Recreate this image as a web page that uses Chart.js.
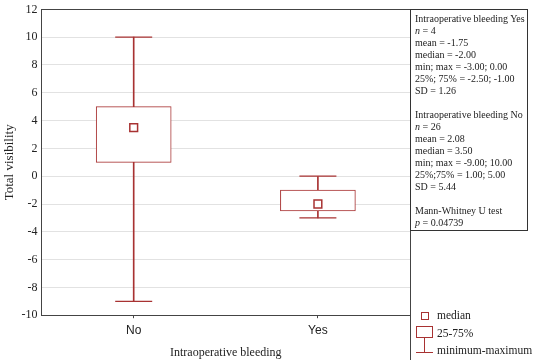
<!DOCTYPE html>
<html>
<head>
<meta charset="utf-8">
<script src="https://cdn.jsdelivr.net/npm/chart.js@4.4.1/dist/chart.umd.min.js"></script>
<style>
   body { margin: 0; background: #fff; font-family: "Liberation Serif", serif; color: #222; }
   #wrap { position: relative; width: 550px; height: 360px; }
   #chart { position: absolute; left: 0; top: 0; }
   #stats {
      position: absolute; left: 410px; top: 9px; width: 118px; height: 222px;
      border: 1px solid #333; box-sizing: border-box; padding: 3px 0 0 4px;
      font-size: 10px; line-height: 12px; white-space: nowrap;
   }
   .leg { position: absolute; font-size: 11.5px; left: 437px; }
   .ico { position: absolute; box-sizing: border-box; }
</style>
</head>
<body>
<div id="wrap">
   <canvas id="chart" width="550" height="360"></canvas>
   <div id="stats">
      Intraoperative bleeding Yes<br>
      <i>n</i> = 4<br>
      mean = -1.75<br>
      median = -2.00<br>
      min; max = -3.00; 0.00<br>
      25%; 75% = -2.50; -1.00<br>
      SD = 1.26<br>
      <br>
      Intraoperative bleeding No<br>
      <i>n</i> = 26<br>
      mean = 2.08<br>
      median = 3.50<br>
      min; max = -9.00; 10.00<br>
      25%;75% = 1.00; 5.00<br>
      SD = 5.44<br>
      <br>
      Mann-Whitney U test<br>
      <i>p</i> = 0.04739
   </div>
   <div class="ico" style="left:421px;top:312px;width:8px;height:8px;border:1.5px solid #a83232;"></div>
   <div class="leg" style="top:309px;">median</div>
   <div class="ico" style="left:416px;top:326px;width:17px;height:12px;border:1px solid #a83232;"></div>
   <div class="leg" style="top:327px;">25-75%</div>
   <div class="ico" style="left:424px;top:338px;width:1px;height:15px;background:#a83232;"></div>
   <div class="ico" style="left:416px;top:352px;width:17px;height:1px;background:#a83232;"></div>
   <div class="leg" style="top:344px;">minimum-maximum</div>
</div>
<script>
const groups = ["No", "Yes"];
const minVals = [-9, -3];
const q1Vals = [1, -2.5];
const medianVals = [3.5, -2];
const q3Vals = [5, -1];
const maxVals = [10, 0];
const yMin = -10;
const yMax = 12;
const yStep = 2;

const red = "#a83232";
const serif = "'Liberation Serif', serif";

// plot frame on the top and right side, right line runs down to the bottom
const frame = {
   id: "frame",
   afterDraw(chart) {
      const { ctx, chartArea: a } = chart;
      ctx.save();
      ctx.strokeStyle = "#444";
      ctx.lineWidth = 1;
      ctx.beginPath();
      ctx.moveTo(a.left, Math.round(a.top) + 0.5);
      ctx.lineTo(Math.round(a.right) + 0.5, Math.round(a.top) + 0.5);
      ctx.lineTo(Math.round(a.right) + 0.5, chart.height);
      ctx.stroke();
      ctx.restore();
   }
};

const ctx = document.getElementById("chart").getContext("2d");
new Chart(ctx, {
   type: "bar",
   data: {
      labels: groups,
      datasets: [
         {
            data: groups.map((g, i) => [minVals[i], maxVals[i]]),
            backgroundColor: red,
            borderWidth: 0,
            barThickness: 1,
            grouped: false,
            order: 3
         },
         {
            data: groups.map((g, i) => [q1Vals[i], q3Vals[i]]),
            backgroundColor: "#fff",
            borderColor: red,
            borderWidth: 1,
            borderSkipped: false,
            barThickness: 75,
            grouped: false,
            order: 2
         },
         {
            type: "line",
            data: maxVals,
            showLine: false,
            pointStyle: "line",
            pointRadius: 18.5,
            borderColor: red,
            pointBorderWidth: 1.2,
            order: 1
         },
         {
            type: "line",
            data: minVals,
            showLine: false,
            pointStyle: "line",
            pointRadius: 18.5,
            borderColor: red,
            pointBorderWidth: 1.2,
            order: 1
         },
         {
            type: "line",
            data: medianVals,
            showLine: false,
            pointStyle: "rect",
            pointRadius: 5.5,
            borderColor: red,
            backgroundColor: "#fff",
            pointBorderWidth: 1.5,
            order: 0
         }
      ]
   },
   options: {
      responsive: false,
      animation: false,
      layout: { autoPadding: false, padding: { left: 2, right: 140, top: 0, bottom: 0 } },
      plugins: { legend: { display: false }, tooltip: { enabled: false } },
      scales: {
         x: {
            grid: { display: true, drawOnChartArea: false, offset: false, tickLength: 3, color: "#444" },
            border: { color: "#444" },
            ticks: { color: "#222", font: { family: "'Liberation Sans', sans-serif", size: 12 }, padding: 5 },
            title: { display: true, text: "Intraoperative bleeding", color: "#222", font: { family: serif, size: 12 }, padding: { top: 3, bottom: 0 } }
         },
         y: {
            min: yMin,
            max: yMax,
            grid: { color: "#e2e2e2", drawTicks: false },
            border: { color: "#444" },
            ticks: { stepSize: yStep, color: "#222", font: { family: serif, size: 12, lineHeight: 0.9 }, padding: 4 },
            title: { display: true, text: "Total visibility", color: "#222", font: { family: serif, size: 13 }, padding: 0 }
         }
      }
   },
   plugins: [frame]
});
</script>
</body>
</html>
